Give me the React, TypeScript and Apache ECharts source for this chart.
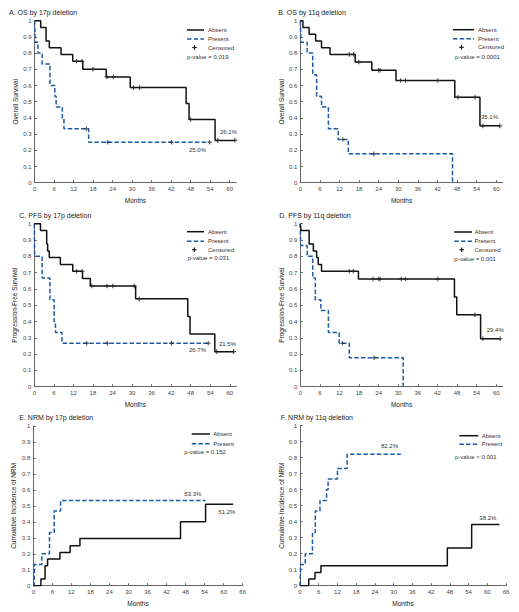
import React, { useEffect, useRef } from "react";
import * as echarts from "echarts";

// ---------- data ----------
const survXTicks = [0, 6, 12, 18, 24, 30, 36, 42, 48, 54, 60];
const nrmXTicks = [0, 6, 12, 18, 24, 30, 36, 42, 48, 54, 60, 66];

// A. OS by 17p deletion
const osA_absT = [0, 1.85, 3.5, 4.5, 8.1, 11.7, 14.8, 22.0, 29.4, 46.6, 47.5, 55.5, 61.6];
const osA_absS = [1, 0.958, 0.875, 0.833, 0.792, 0.75, 0.70, 0.653, 0.587, 0.489, 0.39, 0.261, 0.261];
const osA_absC = [12.9, 14.6, 17.9, 22.2, 24.2, 30.4, 32.3, 48.0, 56.3, 61.6];
const osA_preT = [0, 0.1, 1.0, 2.3, 4.7, 6.2, 6.6, 8.5, 9.0, 16.6, 53.8];
const osA_preS = [1, 0.867, 0.8, 0.733, 0.6, 0.533, 0.467, 0.4, 0.333, 0.25, 0.25];
const osA_preC = [15.9, 22.5, 42.1, 53.8];

// B. OS by 11q deletion
const osB_absT = [0, 0.8, 2.7, 4.7, 6.5, 9.1, 16.8, 21.9, 29.3, 47.3, 55.0, 61.1];
const osB_absS = [1, 0.958, 0.917, 0.875, 0.833, 0.792, 0.745, 0.694, 0.631, 0.527, 0.351, 0.351];
const osB_absC = [15.0, 16.3, 17.9, 24.0, 24.4, 30.7, 32.2, 42.1, 48.3, 53.5, 55.9, 61.1];
const osB_preT = [0, 0.2, 2.1, 3.8, 5.0, 6.5, 8.6, 11.6, 14.7, 46.6];
const osB_preS = [1, 0.867, 0.8, 0.667, 0.533, 0.467, 0.333, 0.267, 0.178, 0];
const osB_preC = [13.0, 22.5];

// C. PFS by 17p deletion
const pfsC_absT = [0, 1.9, 3.8, 4.1, 4.6, 8.0, 11.8, 14.8, 17.2, 31.1, 47.1, 47.8, 55.4, 61.2];
const pfsC_absS = [1, 0.958, 0.875, 0.833, 0.792, 0.75, 0.708, 0.664, 0.618, 0.539, 0.43, 0.323, 0.215, 0.215];
const pfsC_absC = [13.0, 14.7, 17.6, 22.3, 24.1, 30.7, 32.2, 56.0, 61.2];
const pfsC_preT = [0, 0.1, 2.4, 4.8, 6.1, 6.5, 8.5, 53.4];
const pfsC_preS = [1, 0.8, 0.667, 0.533, 0.4, 0.333, 0.267, 0.267];
const pfsC_preC = [16.1, 22.4, 42.1, 53.4];

// D. PFS by 11q deletion
const pfsD_absT = [0, 0.2, 2.7, 4.0, 5.0, 5.5, 6.5, 17.8, 47.2, 47.9, 55.2, 61.2];
const pfsD_absS = [1, 0.958, 0.875, 0.833, 0.792, 0.75, 0.708, 0.661, 0.551, 0.441, 0.294, 0.294];
const pfsD_absC = [15.0, 16.2, 22.3, 24.0, 24.4, 30.9, 32.2, 42.1, 53.5, 55.9, 61.2];
const pfsD_preT = [0, 0.1, 2.1, 3.8, 4.6, 6.3, 8.6, 11.9, 15.0, 31.5];
const pfsD_preS = [1, 0.867, 0.8, 0.667, 0.533, 0.467, 0.333, 0.267, 0.178, 0];
const pfsD_preC = [12.9, 22.6];

// E. NRM by 17p deletion
const nrmE_absT = [0, 2.4, 3.7, 4.5, 8.4, 11.6, 14.7, 46.4, 54.3, 63.0];
const nrmE_absS = [0, 0.042, 0.125, 0.167, 0.208, 0.25, 0.295, 0.40, 0.51, 0.51];
const nrmE_preT = [0, 0.3, 2.7, 5.1, 6.6, 8.6, 54.3];
const nrmE_preS = [0, 0.133, 0.2, 0.333, 0.467, 0.533, 0.533];

// F. NRM by 11q deletion
const nrmF_absT = [0, 2.8, 4.8, 6.7, 47.2, 55.0, 63.9];
const nrmF_absS = [0, 0.042, 0.083, 0.125, 0.235, 0.382, 0.382];
const nrmF_preT = [0, 0.2, 1.7, 4.0, 4.9, 6.4, 8.5, 9.0, 12.0, 15.1, 32.3];
const nrmF_preS = [0, 0.133, 0.2, 0.333, 0.467, 0.533, 0.6, 0.667, 0.733, 0.822, 0.822];

const titles = [
  "A. OS by 17p deletion",
  "B. OS by 11q deletion",
  "C. PFS by 17p deletion",
  "D. PFS by 11q deletion",
  "E. NRM by 17p deletion",
  "F. NRM by 11q deletion",
];
const yNames = [
  "Overall Survival",
  "Overall Survival",
  "Progression-Free Survival",
  "Progression-Free Survival",
  "Cumulative Incidence of NRM",
  "Cumulative Incidence of NRM",
];
const pValues = ["p-value = 0.019", "p-value = 0.0001", "p-value = 0.031", "p-value = 0.001", "p-value = 0.152", "p-value < 0.001"];
const seriesNames = ["Absent", "Present", "Censored"];

// ---------- layout ----------
const BLACK = "#111111";
const BLUE = "#1d5ba6";
const FONT = "'Liberation Sans', Arial, sans-serif";

const panels = [
  { grid: { left: 34.7, top: 20.7, width: 201.5, height: 162 }, xMax: 62, xTicks: survXTicks,
    abs: [osA_absT, osA_absS], pre: [osA_preT, osA_preS], cens: [osA_absC, osA_preC],
    title: [9, 12.3], yGap: 16,
    leg: { lx1: 187, lx2: 204, tx: 208, ys: [30, 39, 47.5], mx: 194.5, px: 187, py: 57 },
    notes: [["26.1%", 220, 132.3], ["25.0%", 189, 149.7]] },
  { grid: { left: 300.3, top: 20.7, width: 202.5, height: 162 }, xMax: 62, xTicks: survXTicks,
    abs: [osB_absT, osB_absS], pre: [osB_preT, osB_preS], cens: [osB_absC, osB_preC],
    title: [278.3, 12.3], yGap: 15,
    leg: { lx1: 453, lx2: 474, tx: 478, ys: [29.7, 38.7, 47.3], mx: 461.5, px: 455, py: 57.3 },
    notes: [["35.1%", 481, 116.7]] },
  { grid: { left: 34.3, top: 223.7, width: 202, height: 163 }, xMax: 62, xTicks: survXTicks,
    abs: [pfsC_absT, pfsC_absS], pre: [pfsC_preT, pfsC_preS], cens: [pfsC_absC, pfsC_preC],
    title: [19.3, 215], yGap: 16,
    leg: { lx1: 187, lx2: 204, tx: 208, ys: [231.7, 241.3, 249.7], mx: 194.3, px: 187.7, py: 258.3 },
    notes: [["21.5%", 219, 344], ["26.7%", 189, 350]] },
  { grid: { left: 300.3, top: 223.7, width: 202.5, height: 163 }, xMax: 62, xTicks: survXTicks,
    abs: [pfsD_absT, pfsD_absS], pre: [pfsD_preT, pfsD_preS], cens: [pfsD_absC, pfsD_preC],
    title: [279.3, 215], yGap: 15,
    leg: { lx1: 454.3, lx2: 472, tx: 474.5, ys: [232, 241.3, 249.7], mx: 461.7, px: 454.3, py: 259.3 },
    notes: [["29.4%", 486.7, 330]] },
  { grid: { left: 33.3, top: 426, width: 209.4, height: 159.7 }, xMax: 66, xTicks: nrmXTicks,
    abs: [nrmE_absT, nrmE_absS], pre: [nrmE_preT, nrmE_preS], cens: null,
    title: [19.3, 417.7], yGap: 16,
    leg: { lx1: 191.7, lx2: 210, tx: 213.3, ys: [434, 443.7], mx: 0, px: 184.3, py: 452.3 },
    notes: [["53.3%", 184.3, 494], ["51.2%", 218.3, 511.7]] },
  { grid: { left: 300, top: 425.7, width: 206, height: 160 }, xMax: 66, xTicks: nrmXTicks,
    abs: [nrmF_absT, nrmF_absS], pre: [nrmF_preT, nrmF_preS], cens: null,
    title: [280.7, 417.7], yGap: 15,
    leg: { lx1: 459.3, lx2: 478.3, tx: 481.7, ys: [435.7, 444.3], mx: 0, px: 455, py: 456.7 },
    notes: [["82.2%", 381, 445.7], ["38.2%", 479.3, 517.7]] },
];

const yTicks = [0, 0.1, 0.2, 0.3, 0.4, 0.5, 0.6, 0.7, 0.8, 0.9, 1];
const PLUS = "path://M1.9,0H3.1V1.9H5V3.1H3.1V5H1.9V3.1H0V1.9H1.9Z";

function stepAt(times: number[], vals: number[], t: number) {
  let v = vals[0];
  for (let i = 0; i < times.length; i++) if (times[i] <= t) v = vals[i];
  return v;
}

function buildOption() {
  const series: any[] = [];
  const graphic: any[] = [];
  panels.forEach((p, i) => {
    const [aT, aS] = p.abs;
    const [pT, pS] = p.pre;
    series.push({
      name: seriesNames[1], type: "line", step: "end", xAxisIndex: i, yAxisIndex: i,
      data: pT.map((t, k) => [t, pS[k]]), showSymbol: false, symbol: "none",
      lineStyle: { color: BLUE, width: 1.5, type: [4.5, 2.2] }, z: 2,
    });
    series.push({
      name: seriesNames[0], type: "line", step: "end", xAxisIndex: i, yAxisIndex: i,
      data: aT.map((t, k) => [t, aS[k]]), showSymbol: false, symbol: "none",
      lineStyle: { color: BLACK, width: 1.5 }, z: 3,
    });
    if (p.cens) {
      const cd = [
        ...p.cens[0].map((t) => [t, stepAt(aT, aS, t)]),
        ...p.cens[1].map((t) => [t, stepAt(pT, pS, t)]),
      ];
      series.push({
        name: seriesNames[2], type: "scatter", xAxisIndex: i, yAxisIndex: i, data: cd,
        symbol: PLUS, symbolSize: 4.6, itemStyle: { color: "#222" }, z: 4,
      });
    }
    // title
    graphic.push({ type: "text", x: p.title[0], y: p.title[1],
      style: { text: titles[i], fontSize: 7, fill: "#222", fontFamily: FONT, textVerticalAlign: "middle" } });
    // legend
    const L = p.leg;
    graphic.push({ type: "line", shape: { x1: L.lx1, y1: L.ys[0], x2: L.lx2, y2: L.ys[0] },
      style: { stroke: BLACK, lineWidth: 1.5 } });
    graphic.push({ type: "text", x: L.tx, y: L.ys[0],
      style: { text: seriesNames[0], fontSize: 6, fill: "#333", fontFamily: FONT, textVerticalAlign: "middle" } });
    graphic.push({ type: "line", shape: { x1: L.lx1, y1: L.ys[1], x2: L.lx2, y2: L.ys[1] },
      style: { stroke: BLUE, lineWidth: 1.5, lineDash: [4.5, 2.2] } });
    graphic.push({ type: "text", x: L.tx, y: L.ys[1],
      style: { text: seriesNames[1], fontSize: 6, fill: "#333", fontFamily: FONT, textVerticalAlign: "middle" } });
    if (p.cens) {
      graphic.push({ type: "rect", shape: { x: L.mx - 2.3, y: L.ys[2] - 0.6, width: 4.6, height: 1.2 }, style: { fill: "#222" } });
      graphic.push({ type: "rect", shape: { x: L.mx - 0.6, y: L.ys[2] - 2.3, width: 1.2, height: 4.6 }, style: { fill: "#222" } });
      graphic.push({ type: "text", x: L.tx, y: L.ys[2],
        style: { text: seriesNames[2], fontSize: 6, fill: "#333", fontFamily: FONT, textVerticalAlign: "middle" } });
    }
    graphic.push({ type: "text", x: L.px, y: L.py,
      style: { text: pValues[i], fontSize: 6, fill: "#333", fontFamily: FONT, textVerticalAlign: "middle" } });
    p.notes.forEach((n) => {
      graphic.push({ type: "text", x: n[1] as number, y: n[2] as number,
        style: { text: n[0] as string, fontSize: 6, fill: "#333", fontFamily: FONT, textVerticalAlign: "middle" } });
    });
  });

  return {
    animation: false,
    backgroundColor: "#ffffff",
    textStyle: { fontFamily: FONT },
    grid: panels.map((p) => ({ ...p.grid, containLabel: false })),
    xAxis: panels.map((p, i) => ({
      type: "value", gridIndex: i, min: 0, max: p.xMax, interval: 6,
      name: "Months", nameLocation: "middle", nameGap: 14,
      nameTextStyle: { fontSize: 6.5, color: "#222", fontFamily: FONT },
      axisLine: { onZero: false, lineStyle: { color: "#666", width: 1 } },
      axisTick: { inside: true, length: 2.5, customValues: p.xTicks, lineStyle: { color: "#666" } },
      axisLabel: { customValues: p.xTicks, fontSize: 6, color: "#444", margin: 3.5, fontFamily: FONT },
      splitLine: { show: false },
    })),
    yAxis: panels.map((p, i) => ({
      type: "value", gridIndex: i, min: 0, max: 1, interval: 0.1,
      name: yNames[i], nameLocation: "middle", nameGap: p.yGap, nameRotate: 90,
      nameTextStyle: { fontSize: 6.5, color: "#222", fontFamily: FONT },
      axisLine: { show: true, onZero: false, lineStyle: { color: "#666", width: 1 } },
      axisTick: { show: true, inside: true, length: 2.5, customValues: yTicks, lineStyle: { color: "#666" } },
      axisLabel: { customValues: yTicks, fontSize: 6, color: "#444", margin: 3, fontFamily: FONT,
        formatter: (v: number) => String(Number(v.toFixed(1))) },
      splitLine: { show: false },
    })),
    series,
    graphic,
  };
}

export default function App() {
  const ref = useRef<HTMLDivElement>(null);
  useEffect(() => {
    document.body.style.margin = "0";
    const chart = echarts.init(ref.current as HTMLDivElement, null, { renderer: "svg" });
    chart.setOption(buildOption() as any);
    return () => chart.dispose();
  }, []);
  return <div ref={ref} style={{ width: 519, height: 612 }} />;
}
